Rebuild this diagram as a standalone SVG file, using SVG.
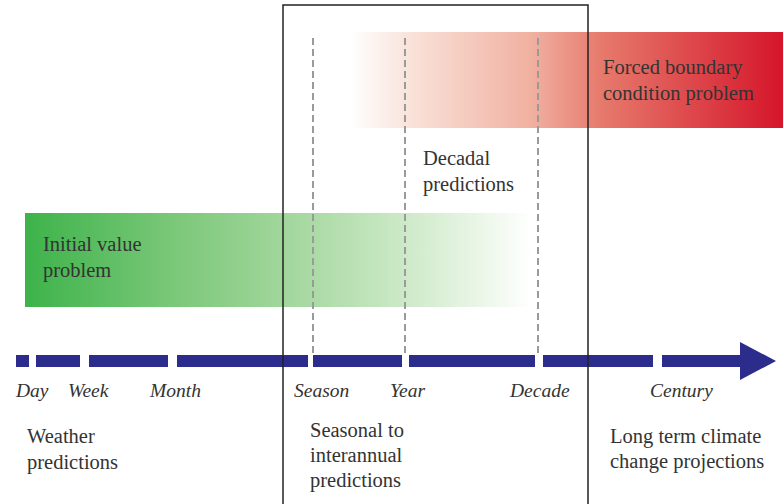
<svg xmlns="http://www.w3.org/2000/svg" width="783" height="504" viewBox="0 0 783 504">
<defs>
<linearGradient id="gGreen" x1="25" y1="0" x2="532" y2="0" gradientUnits="userSpaceOnUse">
<stop offset="0" stop-color="#3db34a"/>
<stop offset="0.3" stop-color="#7cc87a"/>
<stop offset="0.55" stop-color="#a8d9a2"/>
<stop offset="0.78" stop-color="#d3ecce"/>
<stop offset="1" stop-color="#ffffff"/>
</linearGradient>
<linearGradient id="gRed" x1="350" y1="0" x2="783" y2="0" gradientUnits="userSpaceOnUse">
<stop offset="0" stop-color="#ffffff"/>
<stop offset="0.15" stop-color="#f9e0d7"/>
<stop offset="0.42" stop-color="#f0b0a0"/>
<stop offset="0.58" stop-color="#e67a6c"/>
<stop offset="1" stop-color="#d5152a"/>
</linearGradient>
<style>
.lbl{font-family:"Liberation Serif","DejaVu Serif",serif;font-size:20.5px;fill:#333}
.tick{font-family:"Liberation Serif","DejaVu Serif",serif;font-size:19.5px;font-style:italic;fill:#333}
.dash{stroke:#9a9a9a;stroke-width:2;stroke-dasharray:7 4;fill:none}
.seg{fill:#2b2c8c}
</style>
</defs>
<rect width="783" height="504" fill="#ffffff"/>
<g id="forced-boundary">
<rect x="350" y="32" width="433" height="96" fill="url(#gRed)"/>
<text class="lbl" x="603" y="74">Forced boundary</text>
<text class="lbl" x="603" y="100">condition problem</text>
</g>
<g id="initial-value">
<rect x="25" y="213" width="507" height="94" fill="url(#gGreen)"/>
<text class="lbl" x="43" y="251">Initial value</text>
<text class="lbl" x="43" y="277">problem</text>
</g>
<g id="dashed-lines">
<line class="dash" x1="313" y1="38" x2="313" y2="354"/>
<line class="dash" x1="405" y1="38" x2="405" y2="354"/>
<line class="dash" x1="538" y1="38" x2="538" y2="354"/>
</g>
<g id="decadal">
<text class="lbl" x="423" y="165">Decadal</text>
<text class="lbl" x="423" y="191">predictions</text>
</g>
<g id="connectors">
<rect class="seg" x="16" y="355" width="13" height="12"/>
<rect class="seg" x="36" y="355" width="44" height="12"/>
<rect class="seg" x="89" y="355" width="79" height="12"/>
<rect class="seg" x="177" y="355" width="131" height="12"/>
<rect class="seg" x="313" y="355" width="89" height="12"/>
<rect class="seg" x="409" y="355" width="126" height="12"/>
<rect class="seg" x="543" y="355" width="110" height="12"/>
<polygon class="seg" points="662,355 740,355 740,342 776,361 740,380 740,367 662,367"/>
</g>
<g id="box">
<rect x="283" y="5" width="305" height="505" fill="none" stroke="#222" stroke-width="1.5"/>
</g>
<g id="ticks">
<text class="tick" x="16" y="397">Day</text>
<text class="tick" x="68" y="397">Week</text>
<text class="tick" x="150" y="397">Month</text>
<text class="tick" x="294" y="397">Season</text>
<text class="tick" x="390" y="397">Year</text>
<text class="tick" x="510" y="397">Decade</text>
<text class="tick" x="650" y="397">Century</text>
</g>
<g id="weather">
<text class="lbl" x="27" y="443">Weather</text>
<text class="lbl" x="27" y="469">predictions</text>
</g>
<g id="seasonal">
<text class="lbl" x="310" y="437">Seasonal to</text>
<text class="lbl" x="310" y="462">interannual</text>
<text class="lbl" x="310" y="487">predictions</text>
</g>
<g id="long-term">
<text class="lbl" x="610" y="443">Long term climate</text>
<text class="lbl" x="610" y="468">change projections</text>
</g>
</svg>
